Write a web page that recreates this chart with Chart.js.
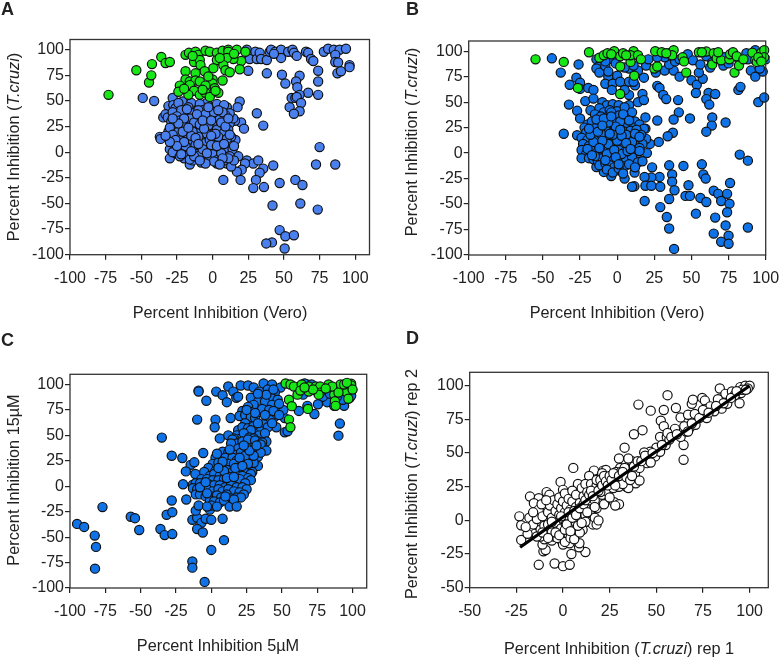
<!DOCTYPE html>
<html>
<head>
<meta charset="utf-8">
<script src="https://cdn.jsdelivr.net/npm/chart.js@4"></script>
<style>
  html, body { margin: 0; padding: 0; background: #fff; }
  #page { position: relative; width: 779px; height: 657px; overflow: hidden; font-family: "Liberation Sans", Arial, sans-serif; color: #222; }
  canvas { position: absolute; }
  .letter { position: absolute; font-weight: bold; font-size: 18px; line-height: 18px; }
  .xt, .yt { position: absolute; font-size: 16.3px; line-height: 18px; white-space: nowrap; transform: translate(-50%, -50%); }
  .yt { transform: translate(-50%, -50%) rotate(-90deg); }
</style>
</head>
<body>
<div id="page">
  <canvas id="chartA"></canvas>
  <canvas id="chartB"></canvas>
  <canvas id="chartC"></canvas>
  <canvas id="chartD"></canvas>
  <div class="letter" style="left:1px;top:0px">A</div>
  <div class="letter" style="left:406px;top:0px">B</div>
  <div class="letter" style="left:1px;top:331px">C</div>
  <div class="letter" style="left:406px;top:329px">D</div>
  <div class="yt" style="left:13px;top:147px">Percent Inhibition (<i>T.cruzi</i>)</div>
  <div class="xt" style="left:220px;top:312px">Percent Inhibition (Vero)</div>
  <div class="yt" style="left:411px;top:142px">Percent Inhibition (<i>T.cruzi</i>)</div>
  <div class="xt" style="left:617px;top:312px">Percent Inhibition (Vero)</div>
  <div class="yt" style="left:13px;top:480px">Percent Inhibition 15µM</div>
  <div class="xt" style="left:218px;top:645px">Percent Inhibition 5µM</div>
  <div class="yt" style="left:411px;top:484px">Percent Inhibition (<i>T.cruzi</i>) rep 2</div>
  <div class="xt" style="left:619px;top:648px">Percent Inhibition (<i>T.cruzi</i>) rep 1</div>
</div>
<script>
// tick labels
const ticksWide = [-100, -75, -50, -25, 0, 25, 50, 75, 100];
const ticksNarrow = [-50, -25, 0, 25, 50, 75, 100];

// Panel A, Vero vs T.cruzi
const aGreen = [[-73,56],[-53.5,80],[-44.6,68],[-43,75],[-42.5,86],[-36,93],[-33,87],[-30,88],[-19,95],[-19,79],[-16.6,97],[-12,98],[-13,88],[-10,95],[-9,90],[-8.5,85],[-5,99],[-2,98],[3,97],[7,99],[11,100],[11,98],[17,100],[23,98],[20,89],[19,81],[14.5,91],[10,92],[3,90],[7.5,85],[9,80],[12,78],[0.5,82],[-5.6,79],[-12,77],[0,71],[7,70],[0,67],[-19,71],[-16,69],[-12,70],[-9,69],[-23,65],[-16,65.5],[-5,65],[1.5,62.5],[-24,59],[-13,60],[-17,56],[-9,56],[-5,58],[-2,54],[4,58],[-7,61],[15,96],[5,92],[-14,94],[-3,74],[2,60],[-20,62]];
const aBlueTop = [[24,100],[26,91],[30,98],[31,91],[33,97],[34,91],[38,90],[40,98],[41,100],[44,98],[48,100],[48,92],[43,96],[53,98],[56,100],[57,97],[59,94],[65.5,98],[67,97],[69,91],[70.6,89],[78,98],[81,101],[85,100],[89,100],[93.5,101],[86,95],[86,88],[88,87.6],[87.5,77],[90,79],[96,85],[96,83],[25,79.5],[38,77],[48.6,75.6],[61,74.6],[58.5,69],[51,67],[59.4,63.5],[67,58],[74,79.5],[74,69],[74,56],[61,56],[55.4,53],[58,53],[59,54],[62,48],[54,44],[61,40],[57,37.5],[-49,53],[-41,50],[31,38],[35.5,26],[19,49.5],[17.5,44],[20,29],[22,23],[15.7,30.6]];
const aBlueLow = [[75,5],[72.5,-12],[86,-12],[18,-4],[24,-8],[28.5,-11],[32,-8],[22.7,-11],[42.5,-13],[20.4,-17],[17,-19],[7.5,-27],[19.6,-27],[35.5,-16],[33,-20],[30.4,-27],[28.5,-35],[36,-34],[47,-30],[58,-27],[63,-32],[42,-52],[61.5,-50],[73.7,-56],[47,-76],[51,-82],[57,-81],[41.6,-88],[37.6,-89],[50.5,-94]];
const aBlueCore = [[-28,53],[-21,49.5],[-31,45],[-27.6,46],[-26,43],[-34.6,34],[-33,37],[-31.5,34],[-28,39],[-19,38],[-12,44.6],[-15,48],[-4,48],[0.5,44],[6,42],[10,44],[12,28],[14.5,33],[8.6,30],[2,30],[-4,33],[-10.5,33],[-12,26],[-19,28],[-26,23],[-31,20],[-25,16],[-20,17],[-30.6,13],[-37,15],[-36.5,13],[-15.4,13],[-6.5,14],[0.5,14],[7,16],[14.5,10],[16,12],[-2.6,21],[-8,22],[-30,3],[-22,5.5],[-30,-6],[-25.7,-1],[-20,-6],[-16,-12],[-11,-6],[-9,4],[-4,5.5],[3,2],[10,0],[10,-11],[3,-11],[13,-14],[-8,-10],[-1,-4],[-24,48],[-17,44],[-9,47],[-7,41],[-2,40],[3,47],[8,46],[12,38],[9,36],[4,37],[-14,38],[-22,41],[-25,35],[-29,30],[-23,31],[-16,33],[-8,35],[-1,34],[5,33],[-27,27],[-21,25],[-15,26],[-6,28],[0,27],[6,25],[11,22],[-30,24],[-24,20],[-18,21],[-11,19],[-4,18],[3,22],[8,19],[13,15],[-28,17],[-22,12],[-17,9],[-11,11],[-5,9],[2,10],[7,11],[11,7],[-27,8],[-24,2],[-19,1],[-14,4],[-7,-1],[-2,1],[5,6],[9,4],[14,3],[-28,0],[-23,-4],[-17,-3],[-12,-1],[-6,-5],[0,-2],[6,-3],[12,-4],[-14,-8],[-9,-3],[-3,-8],[4,-7],[8,-8],[15,-8],[-18,18],[-13,29],[-10,41],[-5,37],[1,39],[7,39],[-20,33],[-3,26],[4,15],[-10,15],[-14,20],[-2,12],[10,13],[-26,12],[-19,6],[-12,7],[-7,3],[-1,7],[6,-1],[11,-6],[-4,-1],[-16,-7],[1,-9],[-24,28],[-18,42],[-11,37],[-15,16],[-9,27],[2,18],[6,29],[-6,23],[9,25],[12,17],[-28,33],[-21,20],[-12,14],[-3,44],[-7,31],[4,41],[11,33],[-13,-4],[-20,10],[-25,6],[15,6],[-1,16],[3,6],[7,-6],[-10,8],[-17,24],[-30,10],[-33,16],[-5,-11],[-9,-8],[5,-12],[-22,-2],[-15,1],[-1,31],[8,8]];

// Panel B, Vero vs T.cruzi
const bGreen = [[-55,92],[-36,89.5],[-26.5,64],[-19,99],[-12,93.6],[-9,96],[-6.5,98],[-2,100],[2,95],[2,85],[2,58],[9,89.5],[11,100],[9,96],[14,96],[16,92],[11.5,76],[4,98],[25,83],[27,85],[25.6,100],[30,99],[35,98],[38,101],[37,96],[44,94],[45,90],[46.5,79],[55,99],[60,99.7],[65,98],[64,87],[67,93],[70,91],[75.5,92],[76,97],[78,99],[80.5,95],[79,79],[82,86],[85,92],[91,98.5],[93,91],[94,89.5],[97,98.5],[99,101],[99,94],[95,94],[57,99],[68,99],[-4,97],[6,96],[33,98],[97,90]];
const bBlueTop = [[-44,93],[-38,79],[-26,87],[-27.5,74],[-25,69],[-25,63],[-32,67],[-19.5,64],[-16,62],[-21.5,51],[-32.5,47.6],[-16,53.5],[-18,42],[-27,41.5],[-25,34],[-36,19],[-27,17.5],[-14,92],[-12.6,85],[-14,83],[-12,79],[-8,85.5],[-6,75],[0,76],[-8,68],[-3,68],[2,70],[8,70],[12,66.6],[11,70],[18,74],[17,58],[14,50],[18,52],[8,57],[5,62],[-3.6,62],[8,47],[-3,92],[8,83],[14,81],[19.5,86],[21,92],[26,79],[32,81],[38,81],[35,87],[32,94],[27,94],[39,90],[42,75],[50,71.5],[53.6,67],[57.6,73],[55,79],[47.5,97],[51,91],[56,87],[62.6,84],[71.5,86],[90,81],[93,75],[98,80],[96,83],[93,101],[87,98],[5,84],[11,86],[-8,90],[42,92],[60,95],[66,96],[72,94],[82,92],[88,92],[96,97],[100,92],[64,89],[75,88],[-6,80],[-1,88]];
const bBlueMid = [[27,66],[28.5,64],[31,57],[33,53],[41,52],[41.5,40],[49,34],[38,33],[27,32],[37.5,20],[34,16.5],[28,11],[22,9],[19,35],[19,24],[19.5,14],[20,0],[53,59],[61.5,59],[66,58],[60,53],[62,47.6],[64,35],[63.7,27],[60,21],[73,30],[81.6,62],[83,65],[95,50],[99,54.5],[82.5,-1.5],[88,-7.4],[23.5,-14],[35,-12],[44.6,-12.6],[57,-11],[58,-21],[59.6,-25],[37,-21],[37,-28],[38.6,-36.5],[35,-45],[28.5,-23.4],[23,-24],[18.4,-23.4],[19,-32],[23,-32],[29,-33],[18.5,-47],[29,-53],[33.4,-62.7],[35,-74],[38.3,-94],[46,-42],[49,-42],[48,-31.6],[56,-44],[60,-48],[65,-37],[68,-40],[70,-47],[74,-40],[76,-29.3],[75.6,-49.6],[74,-58],[66,-63.3],[53,-59.4],[65,-79],[73,-71],[75,-81],[70,-87],[75,-89],[88,-73],[11.6,-32.6],[10,-33],[5,-25],[-4,-22.5],[-9,-18.5],[-14,-13.6],[0,-17],[11.7,-19]];
const bBlueCore = [[-10,50],[-7,47],[-3,48],[1,47],[-12,44],[-9,40],[-5,42],[0,41],[5,45],[-15,38],[-11,36],[-7,35],[-3,33],[1,37],[6,35],[10,40],[12,31],[-20,28],[-17,31],[-13,29],[-9,30],[-5,28],[-1,30],[3,26],[7,29],[11,25],[15,28],[18,24],[-22,25],[-21,20],[-17,22],[-14,25],[-10,23],[-6,21],[-2,22],[1,18],[5,21],[9,22],[13,23],[16,18],[-24,15],[-20,13],[-16,17],[-13,13],[-9,16],[-5,14],[-1,15],[3,12],[7,14],[10,17],[14,12],[17,9],[-23,9],[-19,7],[-15,6],[-12,9],[-8,7],[-4,5],[0,8],[4,9],[8,6],[12,8],[15,5],[-24,3],[-21,-1],[-17,2],[-14,0],[-12,-1],[-9,2],[-6,2],[-2,-1],[1,3],[5,1],[9,-1],[13,-3],[15,2],[-24,-5],[-19,-5],[-16,-6],[-13,-8],[-10,-5],[-6,-4],[-3,-7],[0,-8],[3,-5],[6,-7],[10,-4],[14,-9],[17,-8],[-12,-12],[-8,-10],[-5,-12],[-2,-14],[2,-12],[5,-13],[8,-11],[12,-14],[-7,-16],[-3,-19],[1,-15],[4,-20],[-4,40],[-8,25],[-11,19],[-3,10],[2,31],[-6,9],[-16,11],[-18,18],[6,18],[-1,26],[4,38],[8,32],[-14,33],[-19,24],[-10,12],[-7,-1],[0,12],[-3,18],[10,11],[3,-1],[-15,-3],[-20,4],[7,2],[-2,3],[-6,30],[-9,34],[-12,5],[-5,19],[3,17],[12,19],[-1,-4],[6,10],[-8,-7],[2,23],[-4,36],[15,16],[-13,21],[9,4],[-17,-2],[1,-11],[-10,27]];

// Panel C, 5uM vs 15uM
const cGreen = [[52.6,101],[56,100],[58.5,98],[64,100],[69,98],[74,98],[77,98],[83,100],[91.5,100],[99,100.7],[99,99],[61,90],[63,94],[55,85],[57,78.7],[68.4,76],[55,65.5],[56,58],[77,92],[87,90],[96,92],[97,86],[87.5,83.6],[88,79],[76,90],[69,93],[85.6,98],[94,100],[96,101.6],[81,96],[90,92],[100,95],[72,95],[66,97]];
const cBlueOut = [[-95,-37],[-90,-40],[-77,-20.5],[-82.5,-48.5],[-81.6,-59.6],[-82.3,-81],[-57,-30],[-54,-31.4],[-51,-43],[-36,-42],[-33,-48],[-27.6,-47],[-31.6,-28],[-27.6,-25.5],[-28,-14],[-35,47.8],[-28,30],[-20.5,27.7],[-14.6,21],[-12,23.5],[-18,14.6],[-20,2],[-17.7,-13],[-5.7,32.7],[-11.3,12],[-13,1.5],[-9,94],[-9,93],[-3.5,84],[-10,65.5],[3,65.5],[2.4,58],[3.5,93],[8,89.5],[11,82.6],[12,98],[15.6,93],[13.7,67],[6,47],[20.8,99],[26,99],[17.7,87],[19,88],[-13.4,-33],[-10,-31],[-7,-36],[-10,-42],[-6,-45.5],[-11,-24],[-9,-19],[-4,-32],[0,-33],[8,-32],[-1,-23],[9,-53],[0,-62.6],[-13.4,-74],[-13.4,-80],[-4.7,-94],[91,61.6],[90,49.7]];
const cBlueTop = [[37,101],[43,100],[49,97],[52,53],[54,54],[46,58],[44,67],[41.5,65],[52,67],[51,75],[62,74],[73,71],[75.5,80.6],[68,79],[82,82.6],[94,79],[87,79],[65,90],[65.6,100],[30,97],[34,93],[40,95],[45,92],[36,88],[42,88],[47,85],[28,87],[33,83],[38,83],[43,80],[48,81],[30,80],[26,78],[36,76],[41,75],[22,74],[28,73],[44,74],[20,69],[24,70],[28,68],[31,67],[37,61],[24,62],[19,55],[22,58],[26,57],[30,59],[35,54],[40,58],[18,50],[21,47],[25,51],[30,52],[36,47],[82,93],[75,93],[95,89],[99,93],[98,87],[68,100],[90,95],[39,90],[44,95],[33,91],[25,75],[31,72],[38,70],[43,62],[48,70],[28,55],[33,62],[23,52],[27,48],[34,50],[38,52],[16,47],[20,41],[26,41],[30,47],[33,44],[37,38],[39,44],[66,101],[71,100],[79,88],[84,91],[93,85],[89,88],[99,89]];
const cBlueBand = [[12,50],[15,46],[18,42],[22,44],[14,42],[26,46],[31,45],[36,43],[19,37],[25,38],[31,36],[35,41],[39,35],[8,34],[12,33],[16,31],[21,33],[27,32],[33,29],[35,33],[3,28],[6,26],[10,28],[15,28],[18,25],[22,25],[28,26],[33,20],[30,23],[1,22],[5,23],[8,20],[12,22],[16,22],[20,18],[25,20],[29,14],[-2,18],[3,15],[7,16],[11,16],[15,14],[19,14],[23,15],[28,12],[-5,14],[-1,10],[2,12],[6,10],[10,11],[14,9],[18,11],[22,10],[26,8],[28,6],[-7,7],[-3,7],[1,6],[5,6],[9,7],[12,4],[16,5],[20,7],[24,3],[-11,3],[-8,3],[-5,1],[-2,2],[2,1],[6,1],[10,-1],[14,2],[18,-1],[22,-1],[25,-3],[-13,-2],[-10,-3],[-6,-4],[-3,-3],[1,-5],[5,-3],[8,-5],[12,-3],[16,-5],[20,-6],[23,-8],[-11,-8],[-8,-8],[-4,-10],[0,-10],[4,-9],[7,-11],[11,-8],[14,-12],[18,-11],[21,-11],[-1,-14],[2,-15],[6,-16],[9,-14],[13,-20],[16,-13],[18,-20],[0,-19],[4,-20],[-3,-20],[9,15],[17,18],[24,30],[30,30],[13,36],[20,28],[26,22],[4,32],[8,24],[-3,-7],[22,20],[11,8],[5,18],[16,9],[-8,-1],[27,35],[32,40],[23,40],[10,-10],[-4,4]];

// Panel D, rep 1 vs rep 2
const dFit = [[-23,-20],[100,100]];
const dOpenHigh = [[-23.4,3],[-22.4,-3.6],[-22.4,-14.5],[-13,-33],[-4.5,-32],[0,-34],[3.6,-33],[4.5,-25],[12,-23.5],[8.6,-20],[8.8,-17],[-10.5,-23],[-9.3,-22],[-11,-18],[5.5,39],[-17.7,17.7],[-13,16.5],[-15.6,12.8],[-8.8,21],[-7.3,19],[-1.3,28.6],[0,22.7],[8,27],[16,34],[16.6,37],[21.6,37],[23,37.5],[21,35],[14,33],[27.4,13.5],[30,12],[28,11],[40.4,86],[47,81.5],[54,82],[56,93],[60.5,83.5],[63,76.5],[52.4,74],[54,70],[42.6,67],[38,64],[33,54],[52,62],[55.6,62],[60,68],[64.6,56],[64.6,45],[67,78.5],[69,86.6],[69.6,89.7],[70.6,79],[74.6,91],[76,89],[77,83],[77,76],[79,84.7],[83.4,89.7],[84,98],[85,83],[87,94],[88,86.6],[90.5,95.8],[94.6,87],[95,99],[95.4,94.6],[97.7,100],[100,100],[99,98],[96,97],[92,93],[49.4,47.5],[52,51],[50,54],[46.7,51],[43.5,50.5],[45,42.5],[39.5,42.5],[37,44],[35,46],[30,46],[30.6,39],[38.6,35],[39,27.6],[41,29.6],[41,39],[34,25],[35,24],[29,25],[25,23],[28.4,36],[55,56],[57,60],[63,62],[66,66],[68,69],[71,71],[73,76],[81,81],[83,90],[86,87],[33,33],[36,38],[31,30]];
const dOpenLow = [[-18,2],[-17,-7],[-16,-3],[-15,-10],[-14,1],[-13,8],[-12,-7],[-11.5,12],[-11,3],[-10,-4],[-10,-14],[-9,-11],[-8,6],[-8,-3],[-7,-7],[-7,11],[-6,2],[-6,-15],[-5,15],[-5,-4],[-5,-12],[-4,7],[-4,-2],[-3,12],[-3,-8],[-2,4],[-2,17],[-1,-6],[-1,9],[-1.5,-14],[0,-18],[0,14],[0,1],[0.5,-10],[1,6],[1,20],[1.5,-3],[2,11],[2,-7],[3,3],[3,16],[3.5,-17],[3,-11],[4,-2],[4,8],[5,22],[5,-5],[5,14],[6,2],[6,-8],[7,10],[7,-2],[7,19],[8,5],[8,-7],[9,13],[9,-3],[10,7],[10,24],[10.5,-7],[11,0],[11,18],[12,27],[12,4],[13,11],[13,21],[14,-1],[14,10],[15,6],[15,17],[15,27],[16,-3],[16,13],[17,2],[17,22],[18,-3],[18,9],[18,26],[19,0],[19,16],[20,14],[20,24],[21,19],[22,28],[22,12],[23,22],[24,31],[25,17],[26,27],[27,24],[28,32],[29,29],[30,25],[31,36],[32,27],[33,39],[-19,-10],[-20,-5],[-16,6],[-12,-12],[-9,15],[-6,-9],[-3,-13],[1,-16],[4,-13],[6,-14],[9,-9],[12,-1],[14,15],[17,15],[20,21]];
const dOpenDense = [[-14,-12],[-11,-9],[-8,-13],[-6,-1],[-4,-9],[-2,-11],[-1,3],[1,-7],[2,-3],[3,6],[4,-8],[5,2],[6,7],[7,4],[8,-4],[9,9],[10,-2],[11,12],[12,15],[13,6],[14,19],[15,22],[16,18],[17,10],[18,30],[19,22],[20,30],[21,26],[22,33],[23,29],[24,26],[25,33],[26,30],[27,35],[28,26],[30,33],[32,36],[34,32],[36,30],[37,33],[38,40],[40,44],[42,44],[44,48],[47,43],[48,50],[53,56],[56,65],[58,62],[61,64],[65,70],[67,66],[69,72],[75,82],[78,80],[82,85],[90,91],[93,96],[98,97]];

const BLUE_A = '#4a80ee';
const BLUE_B = '#0f72e6';
const GREEN = '#17e617';
const INK = '#111';
const SANS = '"Liberation Sans", Arial, sans-serif';

// canvas box and plot edges are in page pixels
// B's canvas runs past the page so the last x label doesn't push the plot in
const panels = [
  { id: 'chartA', box: [0, 0, 390, 330], plot: [70, 39.5, 369.5, 254.7], xr: [-100, 110], yr: [-100, 110], xt: ticksWide, yt: ticksWide,
    sets: [[aGreen, GREEN], [aBlueTop.concat(aBlueLow, aBlueCore), BLUE_A]] },
  { id: 'chartB', box: [390, 0, 410, 330], plot: [468.7, 41, 765.7, 255], xr: [-100, 100], yr: [-100, 110], xt: ticksWide, yt: ticksWide,
    sets: [[bGreen, GREEN], [bBlueTop.concat(bBlueMid, bBlueCore), BLUE_B]] },
  { id: 'chartC', box: [0, 330, 390, 327], plot: [70, 374.3, 366.7, 588], xr: [-100, 110], yr: [-100, 110], xt: ticksWide, yt: ticksWide,
    sets: [[cGreen, GREEN], [cBlueOut.concat(cBlueTop, cBlueBand), BLUE_B]] },
  { id: 'chartD', box: [390, 330, 389, 327], plot: [469.7, 372.3, 768.3, 587.7], xr: [-50, 110], yr: [-50, 110], xt: ticksNarrow, yt: ticksNarrow,
    sets: [[dOpenHigh.concat(dOpenLow, dOpenDense), '#fff']], fit: dFit }
];

const toXY = pts => pts.map(p => ({ x: p[0], y: p[1] }));

// chart.js has no closed frame when the grid is off
const frame = {
  id: 'frame',
  afterDraw(chart) {
    const a = chart.chartArea, c = chart.ctx;
    c.save();
    c.strokeStyle = '#333';
    c.lineWidth = 1.3;
    c.strokeRect(a.left, a.top, a.right - a.left, a.bottom - a.top);
    c.restore();
  }
};

function axis(range, list, extra) {
  return Object.assign({
    type: 'linear',
    min: range[0],
    max: range[1],
    afterBuildTicks: s => { s.ticks = list.map(v => ({ value: v })); },
    ticks: { autoSkip: false, maxRotation: 0, color: '#222', font: { family: SANS, size: 16 } },
    grid: { drawOnChartArea: false, drawTicks: true, tickLength: 5, color: '#222', lineWidth: 1.2 },
    border: { display: false }
  }, extra);
}

panels.forEach(p => {
  const el = document.getElementById(p.id);
  el.width = p.box[2];
  el.height = p.box[3];
  el.style.left = p.box[0] + 'px';
  el.style.top = p.box[1] + 'px';
  const datasets = p.sets.map(s => ({
    type: 'scatter',
    data: toXY(s[0]),
    backgroundColor: s[1],
    borderColor: INK,
    borderWidth: 1.2,
    pointRadius: 4.6,
    clip: 4
  }));
  if (p.fit) {
    datasets.unshift({
      type: 'line',
      data: toXY(p.fit),
      borderColor: '#000',
      borderWidth: 3.2,
      pointRadius: 0
    });
  }
  const leftW = p.plot[0] - p.box[0];
  const botH = p.box[1] + p.box[3] - p.plot[3];
  const x = axis(p.xr, p.xt, { afterFit: s => { s.height = botH; } });
  x.ticks.padding = 9;
  const y = axis(p.yr, p.yt, { afterFit: s => { s.width = leftW; } });
  y.ticks.padding = 1;
  new Chart(el, {
    type: 'scatter',
    data: { datasets: datasets },
    options: {
      responsive: false,
      animation: false,
      layout: { padding: { top: p.plot[1] - p.box[1], right: p.box[0] + p.box[2] - p.plot[2], left: 0, bottom: 0 } },
      plugins: { legend: { display: false }, tooltip: { enabled: false } },
      scales: { x: x, y: y }
    },
    plugins: [frame]
  });
});
</script>
</body>
</html>
